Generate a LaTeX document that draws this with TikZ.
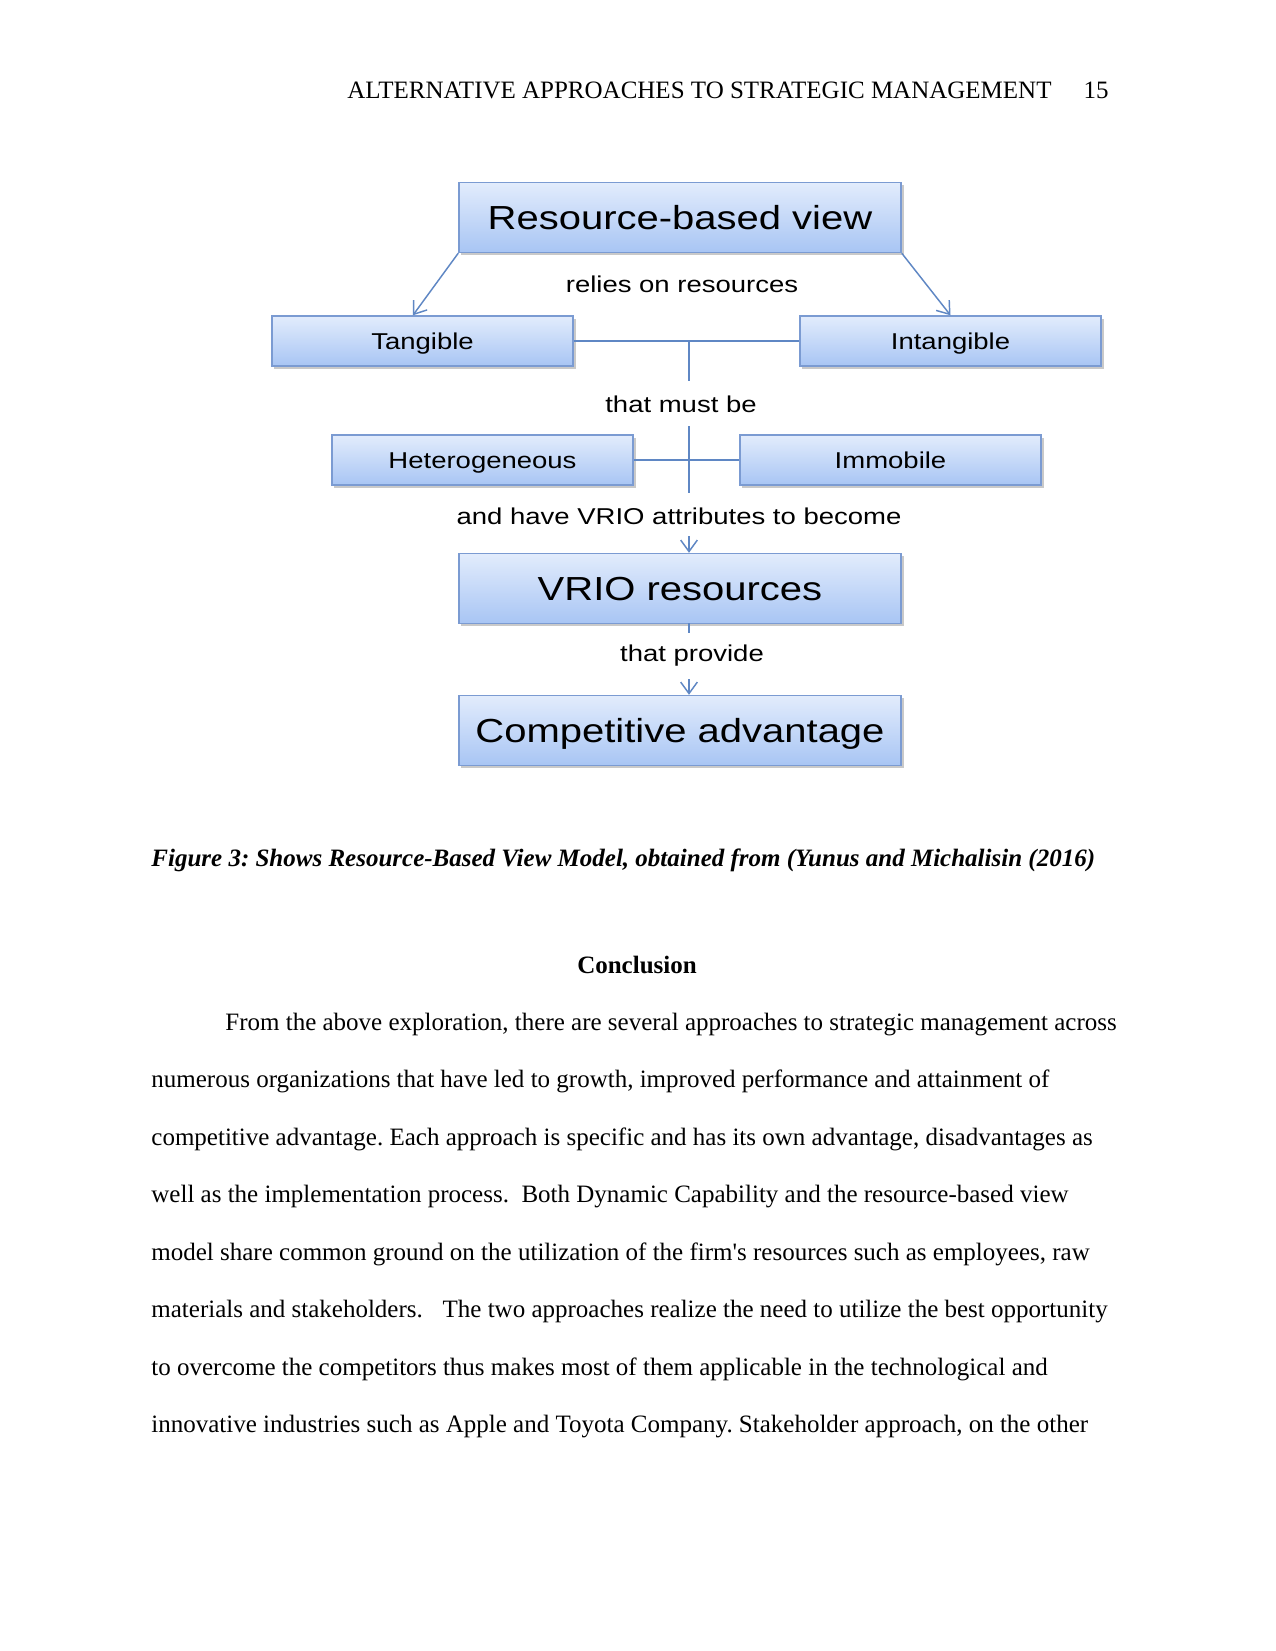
\documentclass[tikz,border=0pt]{standalone}
\usepackage{fontspec}
\setmainfont[Ligatures=TeXOff]{Liberation Serif}
\newfontfamily\diagfont[FakeStretch=1.2]{Liberation Sans}
\usetikzlibrary{arrows.meta,shadows}
\definecolor{boxtop}{HTML}{E2ECFC}
\definecolor{boxbot}{HTML}{A8C5F4}
\definecolor{boxedge}{HTML}{7B9BD2}
\definecolor{linkc}{HTML}{5F87C4}
\tikzset{
  box/.style={draw=boxedge, line width=0.7pt, top color=boxtop, bottom color=boxbot,
    inner sep=0pt, align=center, text depth=0pt,
    drop shadow={shadow xshift=1.2pt, shadow yshift=-1.4pt, opacity=0.35, fill=black!60}},
  bigbox/.style={box, minimum width=212.2pt, minimum height=33.6pt, text height=11.5pt,
    font=\diagfont\fontsize{16pt}{19pt}\selectfont},
  smallbox/.style={box, minimum width=144.5pt, minimum height=24pt, text height=7.9pt,
    font=\diagfont\fontsize{11pt}{13pt}\selectfont},
  lbl/.style={inner sep=0pt, font=\diagfont\fontsize{11pt}{13pt}\selectfont},
  link/.style={draw=linkc, line width=0.7pt},
  arr/.style={link, -{Straight Barb[length=5.5pt,width=8pt]}},
  body/.style={inner sep=0pt, anchor=base west, font=\fontsize{12pt}{14pt}\selectfont\frenchspacing},
}
\begin{document}
\begin{tikzpicture}[x=0.48pt, y=-0.48pt]
\useasboundingbox[fill=white] (0,0) rectangle (1275,1651);

% header
\node[body, anchor=base east] (head) at (1052,99) {ALTERNATIVE APPROACHES TO STRATEGIC MANAGEMENT};
\node[body, anchor=base east] (pnum) at (1109,99) {15};

% diagram boxes
\node[bigbox] (rbv) at (680,217.5) {Resource-based view};
\node[smallbox] (tang) at (422.5,341) {Tangible};
\node[smallbox] (intang) at (950.5,341) {Intangible};
\node[smallbox] (het) at (482.5,460) {Heterogeneous};
\node[smallbox] (imm) at (890.5,460) {Immobile};
\node[bigbox] (vrio) at (680,588.5) {VRIO resources};
\node[bigbox] (comp) at (680,730.5) {Competitive advantage};

% labels
\node[lbl] (l1) at (682,284) {relies on resources};
\node[lbl] (l2) at (681,404) {that must be};
\node[lbl] (l3) at (679,516) {and have VRIO attributes to become};
\node[lbl] (l4) at (692,656) {that provide};

% junction coordinates
\coordinate (j1) at (689,341);
\coordinate (j1b) at (689,381);
\coordinate (j2a) at (689,426);
\coordinate (j2b) at (689,493);
\coordinate (a3) at (689,536);
\coordinate (j4a) at (689,623);
\coordinate (j4b) at (689,633);
\coordinate (a5) at (689,679);

% connectors
\draw[arr] (rbv.south west) -- ([xshift=-4.6pt]tang.north);
\draw[arr] (rbv.south east) -- (intang.north);
\draw[link] (tang.east) -- (intang.west);
\draw[link] (j1) -- (j1b);
\draw[link] (j2a) -- (j2b);
\draw[link] (het.east) -- (imm.west);
\draw[arr] (a3) -- (vrio.north -| a3);
\draw[link] (j4a) -- (j4b);
\draw[arr] (a5) -- (comp.north -| a5);

% caption
\node[body, font=\fontsize{12pt}{14pt}\selectfont\bfseries\itshape\frenchspacing] (cap) at (151,866)
  {Figure 3: Shows Resource-Based View Model, obtained from (Yunus and Michalisin (2016)};

\node[body, anchor=base, font=\fontsize{12pt}{14pt}\selectfont\bfseries] (concl) at (637,973) {Conclusion};

% paragraph
\node[body] (p1) at (225,1030) {From the above exploration, there are several approaches to strategic management across};
\node[body] (p2) at (151,1087.5) {numerous organizations that have led to growth, improved performance and attainment of};
\node[body] (p3) at (151,1145) {competitive advantage. Each approach is specific and has its own advantage, disadvantages as};
\node[body] (p4) at (151,1202.5) {well as the implementation process.\ \ Both Dynamic Capability and the resource-based view};
\node[body] (p5) at (151,1260) {model share common ground on the utilization of the firm's resources such as employees, raw};
\node[body] (p6) at (151,1317.5) {materials and stakeholders.\hspace{6.5pt} The two approaches realize the need to utilize the best opportunity};
\node[body] (p7) at (151,1375) {to overcome the competitors thus makes most of them applicable in the technological and};
\node[body] (p8) at (151,1432.5) {innovative industries such as Apple and Toyota Company. Stakeholder approach, on the other};
\end{tikzpicture}
\end{document}
